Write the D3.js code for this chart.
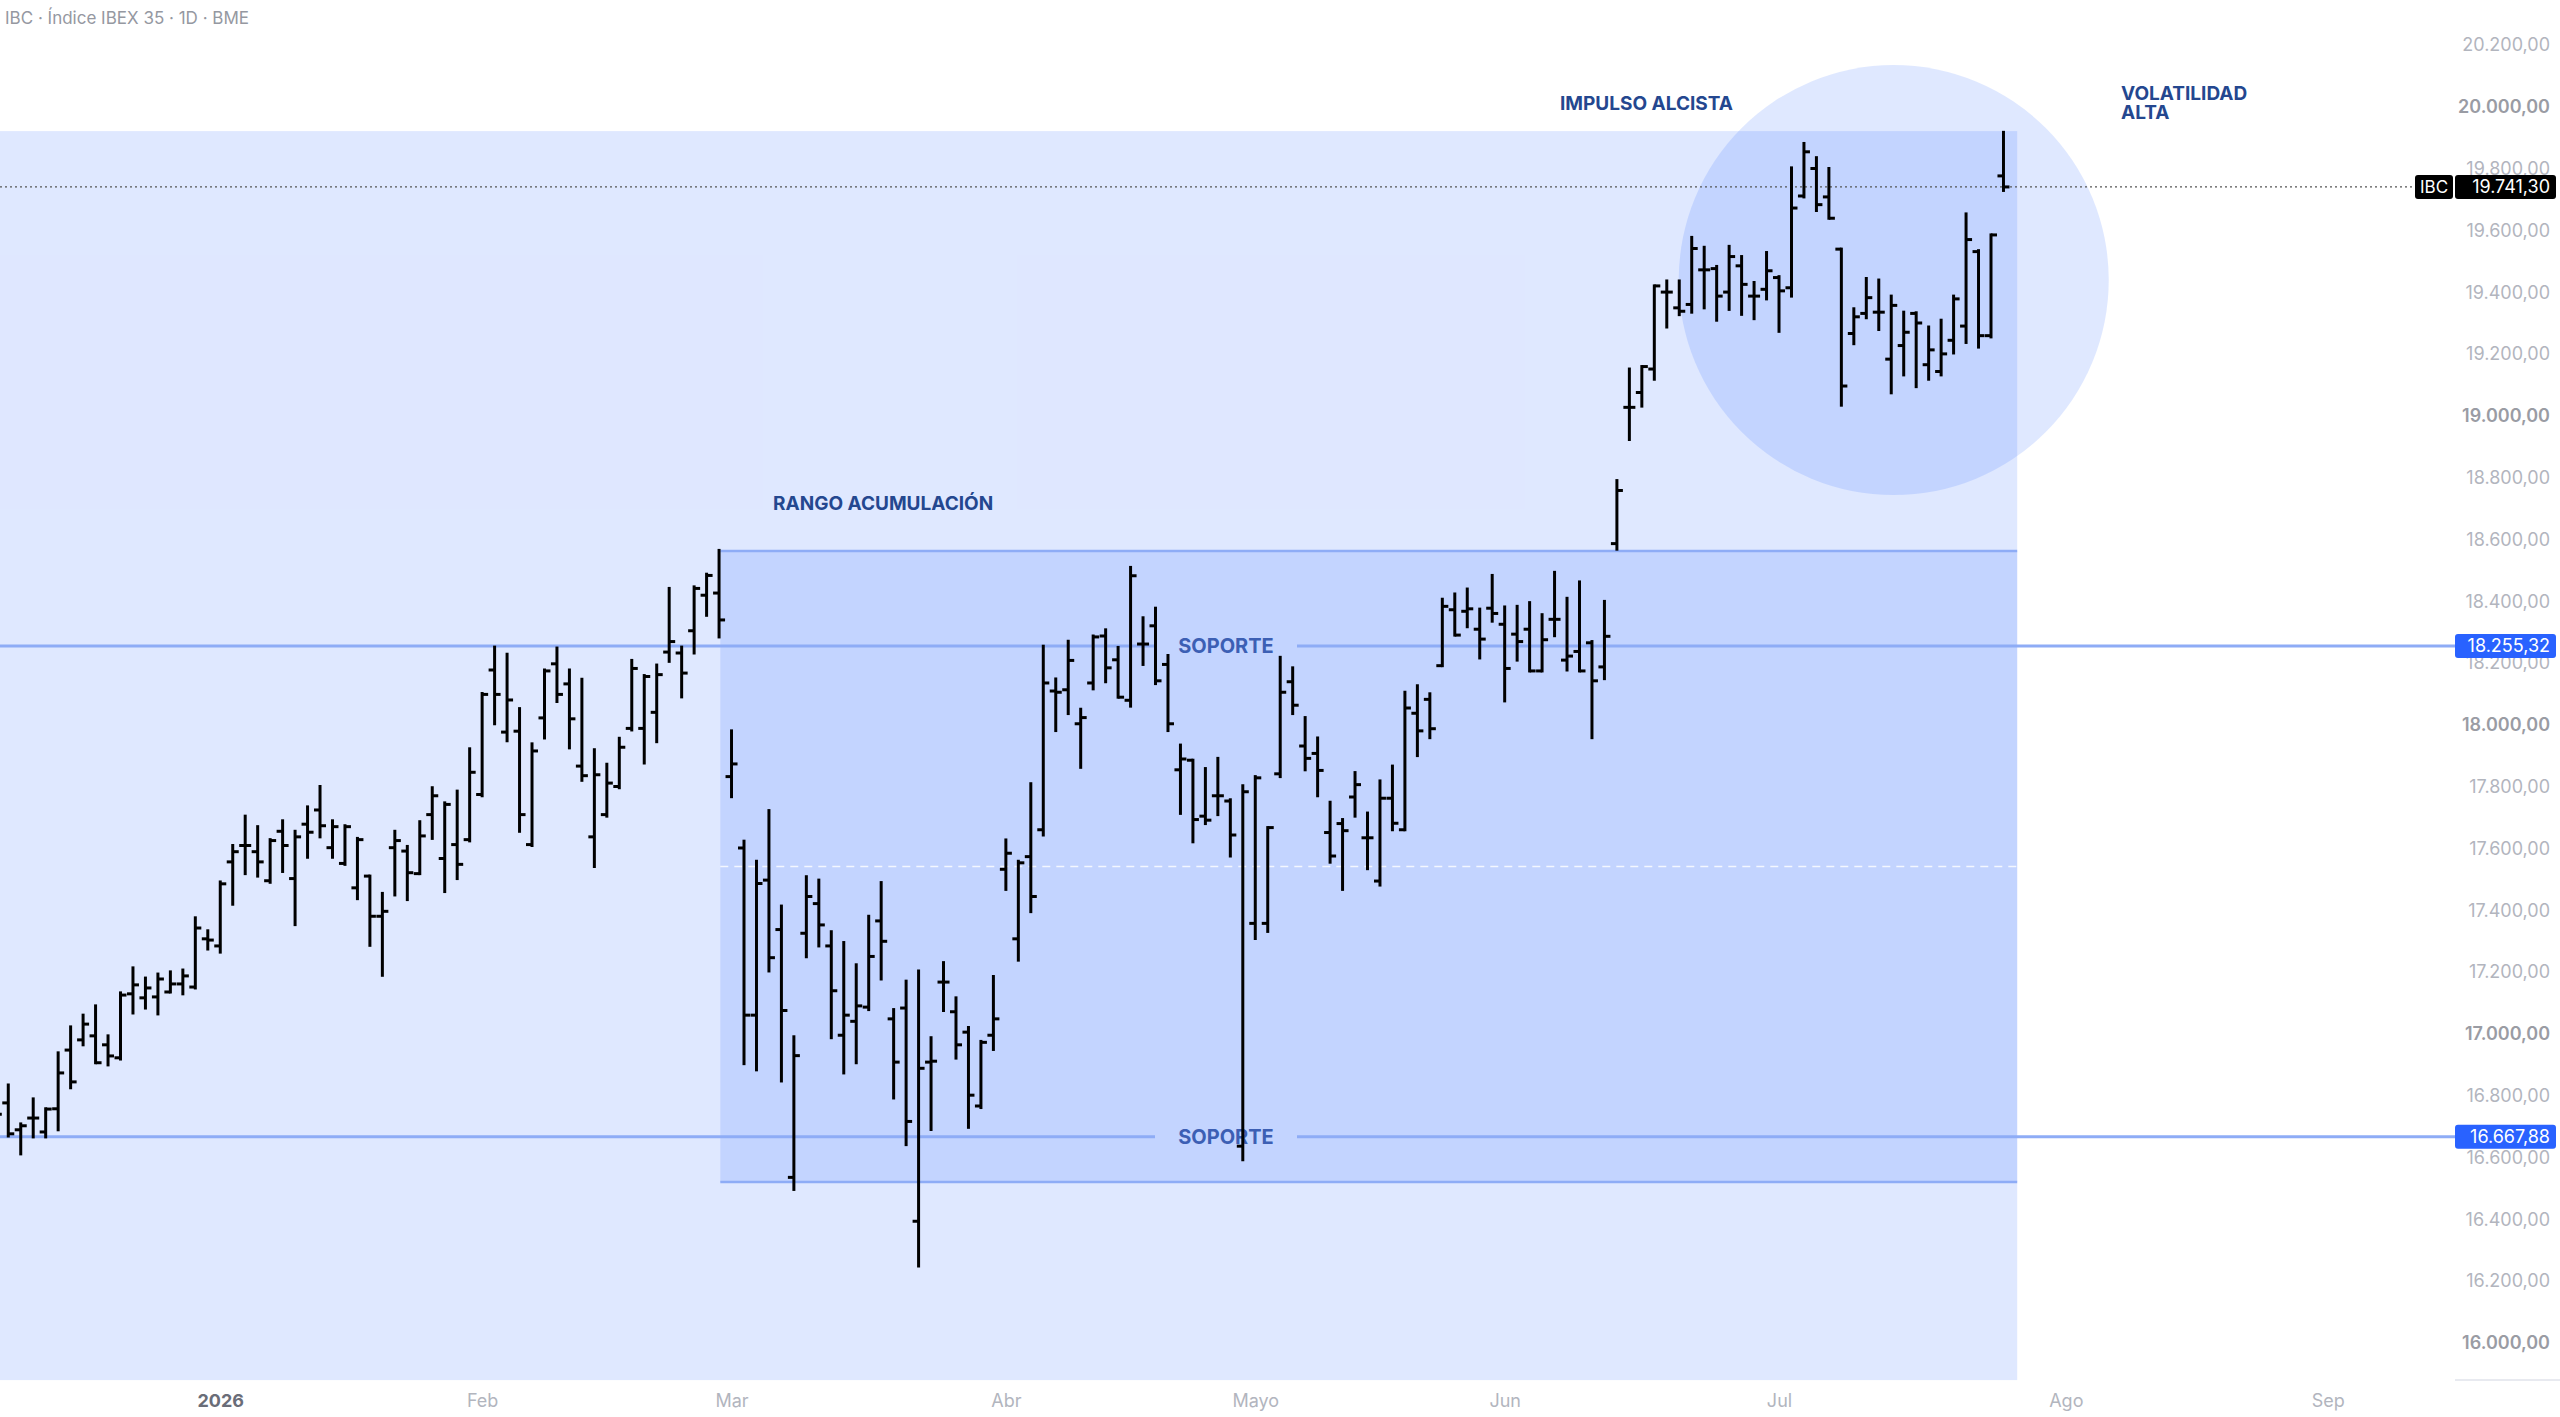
<!DOCTYPE html>
<html>
<head>
<meta charset="utf-8">
<script src="https://cdn.jsdelivr.net/npm/d3@7"></script>
<style>
  body { margin: 0; background: #fff; }
  text { font-family: Inter, "Noto Sans", sans-serif; }
</style>
</head>
<body>
<svg id="chart" width="2560" height="1417"></svg>
<script>
// daily bars, IBEX 35 (index 0 = leftmost visible bar)
const opens = [16800,16777,16690,16728,16683,16758,16948,16981,16994,16965,16923,17130,17117,17120,17136,17162,17152,17308,17285,17557,
  17610,17590,17496,17656,17503,17679,17725,17603,17552,17473,17511,17381,17603,17592,17519,17710,17568,17613,17629,17775,
  18178,17977,17980,17613,18023,18198,18133,17867,17638,17710,17801,17989,17989,18041,18236,18233,18305,18420,18427,17833,
  17602,17061,17498,17338,16536,17326,17422,17285,16996,17041,17087,17366,17049,17084,16394,16909,17168,17072,17006,16767,
  16996,17533,17308,17574,17661,18110,18114,18004,18136,18288,18211,18080,18262,18321,18196,17855,17886,17705,17771,17754,
  16637,17358,17358,17842,18140,17932,17908,17652,17681,17767,17635,17495,17763,17661,18038,18083,18192,18373,18368,18310,
  18378,18326,18294,18310,18175,18342,18210,18238,18266,18188,18587,19028,19076,19152,19401,19350,19361,19473,19477,19401,
  19486,19388,19410,19448,19415,19712,19801,19709,19540,19267,19332,19336,19184,19228,19332,19166,19144,19245,19291,19532,
  19260,19777];
const highs = [16900,16835,16709,16790,16758,16939,17023,17061,17091,16994,17133,17214,17181,17194,17201,17207,17376,17334,17492,17610,
  17705,17671,17629,17690,17656,17735,17801,17690,17674,17633,17511,17455,17656,17607,17687,17797,17748,17786,17923,18102,
  18252,18229,18053,17939,18178,18249,18178,18148,17920,17873,17957,18209,18160,18194,18442,18252,18447,18488,18565,17981,
  17624,17559,17723,17414,16991,17509,17498,17331,17296,17224,17381,17490,17079,17171,17204,16988,17231,17117,17021,16976,
  17186,17628,17559,17810,18255,18149,18271,18051,18288,18308,18251,18510,18347,18378,18225,17935,17886,17859,17892,17758,
  17803,17833,17668,18219,18185,18024,17958,17750,17694,17846,17715,17819,17867,18106,18127,18101,18407,18424,18440,18375,
  18484,18382,18384,18396,18357,18494,18410,18463,18270,18400,18791,19152,19160,19421,19437,19437,19578,19546,19484,19549,
  19516,19432,19529,19451,19803,19882,19836,19801,19540,19347,19445,19440,19388,19336,19334,19288,19310,19388,19654,19535,
  19586,19918];
const lows = [16700,16670,16612,16667,16667,16690,16826,16965,16907,16900,16919,17068,17084,17065,17136,17130,17149,17275,17265,17420,
  17519,17511,17491,17526,17354,17572,17638,17572,17549,17438,17287,17190,17450,17435,17519,17633,17461,17503,17625,17771,
  18004,17949,17656,17610,17958,18076,17926,17821,17542,17705,17797,17984,17877,17946,18206,18091,18233,18355,18285,17768,
  16904,16884,17204,16848,16497,17250,17285,16988,16874,16907,17079,17178,16793,16642,16249,16691,17076,16922,16698,16762,
  16950,17468,17239,17396,17644,17982,18037,17863,18117,18140,18090,18061,18196,18134,17982,17714,17622,17681,17710,17576,
  16593,17309,17332,17833,18037,17855,17771,17556,17468,17705,17535,17482,17661,17661,17901,17959,18192,18291,18318,18217,
  18336,18078,18210,18175,18175,18289,18178,18175,17959,18150,18569,18924,19032,19119,19288,19328,19336,19350,19310,19345,
  19329,19315,19379,19274,19388,19709,19665,19640,19035,19234,19318,19280,19075,19133,19095,19119,19133,19204,19238,19223,
  19256,19730];
const closes = [16740,16677,16703,16728,16757,16874,16845,17032,16907,16929,17126,17159,17149,17178,17162,17188,17343,17304,17486,17590,
  17610,17557,17626,17610,17638,17653,17674,17671,17671,17629,17381,17397,17626,17522,17641,17771,17743,17549,17847,18099,
  18099,18081,17710,17916,18175,18099,18020,17836,17839,17812,17928,18183,18157,18163,18270,18168,18442,18484,18340,17874,
  17061,17487,17247,17076,16930,17445,17353,17140,17061,17091,17251,17300,16909,16717,16889,16912,17168,16965,16802,16973,
  17049,17585,17554,17445,18136,18106,18209,18024,18285,18185,18090,18483,18262,18143,18004,17890,17694,17692,17771,17644,
  17784,17829,17668,18106,18064,17892,17853,17576,17658,17807,17635,17763,17682,18055,17981,17988,18384,18291,18376,18278,
  18361,18183,18270,18175,18276,18342,18223,18175,18143,18287,18759,19028,19160,19421,19401,19339,19542,19473,19388,19516,
  19426,19388,19470,19405,19673,19855,19684,19640,19097,19321,19383,19336,19358,19271,19301,19214,19201,19379,19571,19260,
  19586,19741.3];

// x-axis: month labels and the bar index they sit on
const monthLabels = ["2026", "Feb", "Mar", "Abr", "Mayo", "Jun", "Jul", "Ago", "Sep"];
const monthBars = [18, 39, 59, 81, 101, 121, 143, 166, 187];

// price axis ticks
const priceTicks = [16000,16200,16400,16600,16800,17000,17200,17400,17600,17800,18000,18200,18400,18600,18800,19000,19200,19400,19600,19800,20000,20200];

// drawings
const supportLevels = [18255.32, 16667.88];
const lastPrice = 19741.30;
const zoneTop = 19922, zoneBottom = 15880;          // light background box
const rangeTop = 18563, rangeBottom = 16521;        // accumulation range
const rangeStart = 58.1, rangeEnd = 162.1;          // in bars
const circleCenter = [152.2, 19440], circleRadiusPx = 215;

const locale = d3.formatLocale({decimal: ",", thousands: ".", grouping: [3], currency: ["", ""]});
const fmt = locale.format(",.2f");

const svg = d3.select("#chart");
const x = d3.scaleLinear().domain([0, 1]).range([-4.2, 8.27]);
const y = d3.scaleLinear().domain([16000, 20000]).range([1343, 107]);
const axisX = 2455;

// light zone
const blue = "rgb(41,98,255)";
svg.append("rect")
  .attr("x", 0).attr("y", y(zoneTop))
  .attr("width", x(rangeEnd)).attr("height", y(zoneBottom) - y(zoneTop))
  .attr("fill", blue).attr("fill-opacity", 0.15);

// range box
svg.append("rect")
  .attr("x", x(rangeStart)).attr("y", y(rangeTop))
  .attr("width", x(rangeEnd) - x(rangeStart)).attr("height", y(rangeBottom) - y(rangeTop))
  .attr("fill", blue).attr("fill-opacity", 0.15);
[rangeTop, rangeBottom].forEach(p => {
  svg.append("line")
    .attr("x1", x(rangeStart)).attr("x2", x(rangeEnd))
    .attr("y1", y(p)).attr("y2", y(p))
    .attr("stroke", "#8eacf6").attr("stroke-width", 2.5);
});
svg.append("line")
  .attr("x1", x(rangeStart)).attr("x2", x(rangeEnd))
  .attr("y1", y((rangeTop + rangeBottom) / 2)).attr("y2", y((rangeTop + rangeBottom) / 2))
  .attr("stroke", "#fff").attr("stroke-opacity", 0.8).attr("stroke-width", 1.5)
  .attr("stroke-dasharray", "8,6");

// volatility circle
svg.append("circle")
  .attr("cx", x(circleCenter[0])).attr("cy", y(circleCenter[1]))
  .attr("r", circleRadiusPx)
  .attr("fill", blue).attr("fill-opacity", 0.15);

// support lines with text gap
const gapL = 1155, gapR = 1297;
supportLevels.forEach(p => {
  [[0, gapL], [gapR, axisX]].forEach(seg => {
    svg.append("line")
      .attr("x1", seg[0]).attr("x2", seg[1])
      .attr("y1", y(p)).attr("y2", y(p))
      .attr("stroke", "#8eacf6").attr("stroke-width", 3);
  });
  svg.append("text")
    .attr("x", (gapL + gapR) / 2).attr("y", y(p)).attr("dy", "0.35em")
    .attr("text-anchor", "middle")
    .attr("font-size", 20).attr("font-weight", 700).attr("fill", "#3c5fb4")
    .text("SOPORTE");
});

// last price dotted line
svg.append("line")
  .attr("x1", 0).attr("x2", 2415)
  .attr("y1", y(lastPrice)).attr("y2", y(lastPrice))
  .attr("stroke", "#555").attr("stroke-width", 1.2).attr("stroke-dasharray", "2,3");

// OHLC bars
const bars = d3.range(opens.length);
const g = svg.append("g").attr("stroke", "#000").attr("stroke-width", 3);
g.selectAll("line.hl").data(bars).join("line")
  .attr("x1", i => x(i)).attr("x2", i => x(i))
  .attr("y1", i => y(highs[i]) - 1.5).attr("y2", i => y(lows[i]) + 1.5);
g.selectAll("line.o").data(bars).join("line")
  .attr("x1", i => x(i) - 6).attr("x2", i => x(i))
  .attr("y1", i => y(opens[i])).attr("y2", i => y(opens[i]));
g.selectAll("line.c").data(bars).join("line")
  .attr("x1", i => x(i)).attr("x2", i => x(i) + 6)
  .attr("y1", i => y(closes[i])).attr("y2", i => y(closes[i]));

// price axis
const yAxis = svg.append("g").attr("transform", "translate(2550,0)")
  .call(d3.axisLeft(y).tickValues(priceTicks).tickSize(0).tickPadding(0).tickFormat(fmt));
yAxis.select(".domain").remove();
yAxis.selectAll("text")
  .attr("font-size", 18).attr("font-family", "Inter, sans-serif")
  .attr("fill", d => d % 1000 === 0 ? "#9a9ca4" : "#b2b5be")
  .attr("font-weight", d => d % 1000 === 0 ? 600 : 400);

// x axis
const xAxis = svg.append("g").attr("transform", "translate(0,1401)")
  .call(d3.axisBottom(x).tickValues(monthBars).tickSize(0).tickPadding(0)
    .tickFormat((d, i) => monthLabels[i]));
xAxis.select(".domain").remove();
xAxis.selectAll("text")
  .attr("dy", "0.35em")
  .attr("font-size", 18).attr("font-family", "Inter, sans-serif")
  .attr("fill", (d, i) => i === 0 ? "#6a6d78" : "#b2b5be")
  .attr("font-weight", (d, i) => i === 0 ? 700 : 400);
svg.append("line").attr("x1", axisX).attr("x2", 2560).attr("y1", 1380).attr("y2", 1380)
  .attr("stroke", "#e0e3eb").attr("stroke-width", 1.5);

// price labels on the axis
function priceTag(p, bg) {
  svg.append("rect").attr("x", axisX).attr("y", y(p) - 12).attr("width", 101).attr("height", 24)
    .attr("rx", 3).attr("fill", bg);
  svg.append("text").attr("x", 2550).attr("y", y(p)).attr("dy", "0.35em")
    .attr("text-anchor", "end").attr("font-size", 18).attr("fill", "#fff").text(fmt(p));
}
supportLevels.forEach(p => priceTag(p, "#2962ff"));
priceTag(lastPrice, "#000");
svg.append("rect").attr("x", 2415).attr("y", y(lastPrice) - 12).attr("width", 38).attr("height", 24)
  .attr("rx", 3).attr("fill", "#000");
svg.append("text").attr("x", 2434).attr("y", y(lastPrice)).attr("dy", "0.35em")
  .attr("text-anchor", "middle").attr("font-size", 17).attr("fill", "#fff").text("IBC");

// annotations
const noteColor = "#24478f";
[["RANGO ACUMULACIÓN", 773, 503], ["IMPULSO ALCISTA", 1560, 103], ["VOLATILIDAD", 2121, 93], ["ALTA", 2121, 112]]
  .forEach(t => {
    svg.append("text").attr("x", t[1]).attr("y", t[2]).attr("dy", "0.35em")
      .attr("font-size", 19).attr("font-weight", 700).attr("fill", noteColor).text(t[0]);
  });

// header
svg.append("text").attr("x", 5).attr("y", 18).attr("dy", "0.35em")
  .attr("font-size", 17).attr("fill", "#9598a1")
  .text("IBC · Índice IBEX 35 · 1D · BME");
</script>
</body>
</html>
